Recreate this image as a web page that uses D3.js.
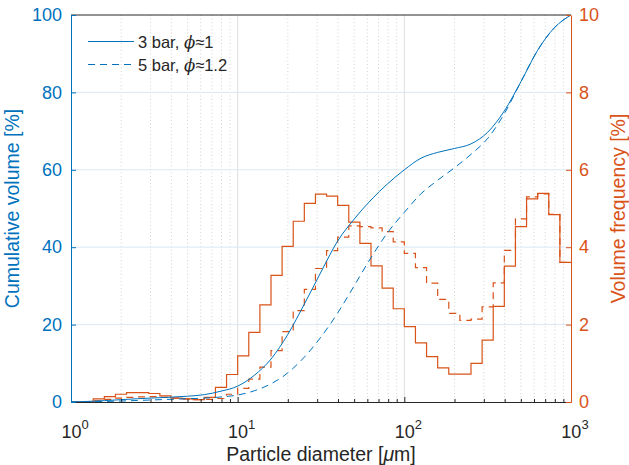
<!DOCTYPE html>
<html>
<head>
<meta charset="utf-8">
<script src="https://cdn.jsdelivr.net/npm/d3@7"></script>
<style>
body { margin: 0; background: #fff; }
text { font-family: "Liberation Sans", Arial, sans-serif; }
</style>
</head>
<body>
<div id="chart-area"></div>
<script>
// volume frequency per log bin (15 bins per decade, 1 to 1000 um)
var freq3bar = [0, 0, 0.08, 0.14, 0.2, 0.24, 0.24, 0.22, 0.16, 0.1, 0.08, 0.06, 0.12, 0.38, 0.71,
	1.19, 1.8, 2.51, 3.27, 4.02, 4.67, 5.13, 5.37, 5.32, 5.08, 4.65, 4.10, 3.52, 2.94, 2.41,
	1.95, 1.53, 1.17, 0.88, 0.72, 0.72, 1.0, 1.6, 2.47, 3.51, 4.53, 5.25, 5.39, 4.84, 3.61];
var freq5bar = [0, 0, 0.03, 0.07, 0.1, 0.12, 0.13, 0.14, 0.12, 0.1, 0.08, 0.06, 0.07, 0.09, 0.2,
	0.35, 0.59, 0.9, 1.33, 1.82, 2.36, 2.91, 3.45, 3.91, 4.26, 4.55, 4.53, 4.5, 4.4, 4.14,
	3.84, 3.47, 3.07, 2.65, 2.29, 2.11, 2.14, 2.46, 3.08, 3.92, 4.73, 5.30, 5.38, 4.85, 3.61];

// cumulative volume read at diameters
var cumD = [1, 1.259, 1.585, 1.995, 2.512, 3.162, 3.981, 5.012, 6.31, 7.943, 10,
	12.59, 15.85, 19.95, 25.12, 31.62, 39.81, 50.12, 63.1, 79.43, 100,
	125.9, 158.5, 199.5, 251.2, 316.2, 398.1, 501.2, 631, 794.3, 1000];
var cum3bar = [0, 0.15, 0.35, 0.6, 0.85, 1.05, 1.25, 1.5, 1.9, 2.8, 4.1,
	6.9, 11.1, 17.4, 25.3, 33.6, 41.6, 47.3, 52.2, 56.4, 60.0,
	63.0, 64.5, 65.5, 66.7, 69.7, 75.2, 82.8, 90.9, 96.7, 100];
var cum5bar = [0, 0.05, 0.15, 0.25, 0.4, 0.55, 0.7, 0.85, 1.0, 1.3, 1.8,
	2.9, 4.7, 7.5, 11.6, 16.8, 23.0, 30.1, 37.3, 43.8, 49.0,
	53.8, 57.3, 60.5, 64.0, 68.1, 74.5, 82.8, 90.9, 96.7, 100];

var leftTicks = [0, 20, 40, 60, 80, 100];
var rightTicks = [0, 2, 4, 6, 8, 10];
var xTicks = [1, 10, 100, 1000];
var legendLabels = ["3 bar, ", "5 bar, "];
var legendPhi = ["1", "1.2"];

var margin = {top: 15, right: 58, bottom: 63, left: 71};
var w = 500;
var h = 387;

var blue = "#0072BD";
var orange = "#D95319";
var dark = "#262626";
var dash = "7,5";

var svg = d3.select("#chart-area").append("svg")
	.attr("width", 629)
	.attr("height", 465);

var group = svg.append("g")
	.attr("transform", "translate(" + margin.left + "," + margin.top + ")");

var x = d3.scaleLog().domain([1, 1000]).range([0, w]);
var yL = d3.scaleLinear().domain([0, 100]).range([h, 0]);
var yR = d3.scaleLinear().domain([0, 10]).range([h, 0]);

// grid
var minor = [];
[1, 10, 100].forEach(function(dec) {
	for (var m = 2; m <= 9; m++) minor.push(dec * m);
});
group.selectAll(".minor").data(minor).enter().append("line")
	.attr("x1", function(d) { return x(d); })
	.attr("x2", function(d) { return x(d); })
	.attr("y1", 0).attr("y2", h)
	.attr("stroke", "#c8c8c8")
	.attr("stroke-width", 0.8)
	.attr("stroke-dasharray", "1,2.5");
group.selectAll(".vmajor").data([10, 100]).enter().append("line")
	.attr("x1", function(d) { return x(d); })
	.attr("x2", function(d) { return x(d); })
	.attr("y1", 0).attr("y2", h)
	.attr("stroke", "#dedede");
group.selectAll(".hmajor").data([20, 40, 60, 80]).enter().append("line")
	.attr("x1", 0).attr("x2", w)
	.attr("y1", function(d) { return yL(d); })
	.attr("y2", function(d) { return yL(d); })
	.attr("stroke", "#dbe9f5");

// histogram stairs
var binEdges = d3.range(freq3bar.length + 1).map(function(k) { return Math.pow(10, k / 15); });
var stairs = d3.line()
	.x(function(d) { return x(d[0]); })
	.y(function(d) { return yR(d[1]); })
	.curve(d3.curveStepAfter);
function stairPoints(vals) {
	return binEdges.map(function(e, i) { return [e, vals[Math.min(i, vals.length - 1)]]; });
}
group.append("path")
	.attr("d", stairs(stairPoints(freq3bar)))
	.attr("fill", "none").attr("stroke", orange).attr("stroke-width", 1.2);
group.append("path")
	.attr("d", stairs(stairPoints(freq5bar)))
	.attr("fill", "none").attr("stroke", orange).attr("stroke-width", 1.2)
	.attr("stroke-dasharray", dash);

// cumulative curves
var cumLine = d3.line()
	.x(function(d) { return x(d[0]); })
	.y(function(d) { return yL(d[1]); })
	.curve(d3.curveMonotoneX);
group.append("path")
	.attr("d", cumLine(cumD.map(function(d, i) { return [d, cum3bar[i]]; })))
	.attr("fill", "none").attr("stroke", blue).attr("stroke-width", 1);
group.append("path")
	.attr("d", cumLine(cumD.map(function(d, i) { return [d, cum5bar[i]]; })))
	.attr("fill", "none").attr("stroke", blue).attr("stroke-width", 1)
	.attr("stroke-dasharray", dash);

// axes
group.append("line").attr("x1", 0).attr("x2", w).attr("y1", 0).attr("y2", 0)
	.attr("stroke", dark);

var bottom = d3.axisBottom(x).tickValues(minor.concat(xTicks)).tickSize(0).tickFormat("");
var xg = group.append("g").attr("transform", "translate(0," + h + ")").call(bottom);
xg.select(".domain").attr("stroke", dark);
xg.selectAll(".tick line").remove();
xg.selectAll(".tick").append("line")
	.attr("y2", function(d) { return xTicks.indexOf(d) >= 0 ? -5 : -3; })
	.attr("stroke", dark);

xTicks.forEach(function(t) {
	var lbl = group.append("text")
		.attr("x", x(t) + 4)
		.attr("y", h + 36)
		.attr("text-anchor", "middle")
		.attr("fill", dark)
		.attr("font-size", "18px");
	lbl.append("tspan").text("10");
	lbl.append("tspan").attr("dy", -9).attr("font-size", "13px").text(Math.round(Math.log10(t)));
});

var left = d3.axisLeft(yL).tickValues(leftTicks).tickSizeInner(-5).tickSizeOuter(0).tickPadding(9);
var lg = group.append("g").call(left);
lg.selectAll("path, line").attr("stroke", blue);
lg.selectAll("text").attr("fill", blue).attr("font-size", "18px")
	.attr("font-family", "Liberation Sans, Arial, sans-serif");

var right = d3.axisRight(yR).tickValues(rightTicks).tickSizeInner(-5).tickSizeOuter(0).tickPadding(8);
var rg = group.append("g").attr("transform", "translate(" + w + ",0)").call(right);
rg.selectAll("path, line").attr("stroke", orange);
rg.selectAll("text").attr("fill", orange).attr("font-size", "18px")
	.attr("font-family", "Liberation Sans, Arial, sans-serif");

// axis labels
group.append("text")
	.attr("transform", "rotate(-90)")
	.attr("x", -h / 2).attr("y", -52)
	.attr("text-anchor", "middle")
	.attr("fill", blue).attr("font-size", "19.5px")
	.text("Cumulative volume [%]");
group.append("text")
	.attr("transform", "rotate(-90)")
	.attr("x", -h / 2).attr("y", w + 54)
	.attr("text-anchor", "middle")
	.attr("fill", orange).attr("font-size", "19.5px")
	.text("Volume frequency [%]");
var xl = group.append("text")
	.attr("x", w / 2).attr("y", h + 59)
	.attr("text-anchor", "middle")
	.attr("fill", dark).attr("font-size", "19.5px");
xl.append("tspan").text("Particle diameter [");
xl.append("tspan").attr("font-style", "italic").text("\u03bc");
xl.append("tspan").text("m]");

// legend
var legend = group.append("g").attr("transform", "translate(17, 26.5)");
legendLabels.forEach(function(l, i) {
	var row = legend.append("g").attr("transform", "translate(0," + (i * 23) + ")");
	row.append("line").attr("x1", 0).attr("x2", 46)
		.attr("stroke", blue).attr("stroke-width", 1)
		.attr("stroke-dasharray", i == 1 ? dash : null);
	var t = row.append("text").attr("x", 50).attr("y", 6)
		.attr("fill", dark).attr("font-size", "16.5px");
	t.append("tspan").text(l);
	t.append("tspan").attr("font-style", "italic").attr("font-family", "DejaVu Serif, serif").text("\u03d5");
	t.append("tspan").text("\u2248" + legendPhi[i]);
});
</script>
</body>
</html>
